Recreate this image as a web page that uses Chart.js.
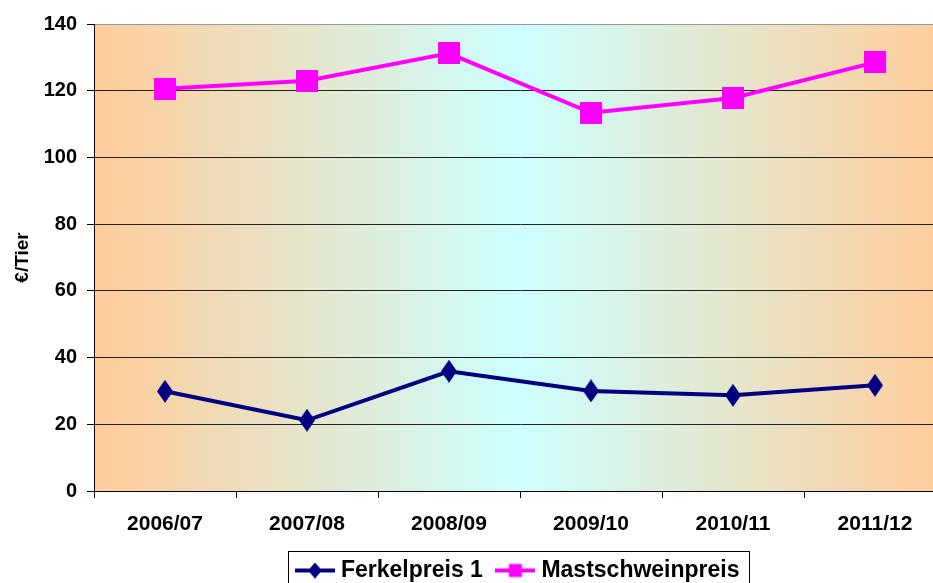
<!DOCTYPE html>
<html>
<head>
<meta charset="utf-8">
<script src="https://cdn.jsdelivr.net/npm/chart.js@4/dist/chart.umd.min.js"></script>
<style>
html,body{margin:0;padding:0;background:#fff;overflow:hidden;width:933px;height:583px;}
#wrap{position:absolute;left:0;top:0;width:954px;height:600px;}
</style>
</head>
<body>
<div id="wrap"><canvas id="c" width="954" height="600"></canvas></div>
<script>
const categories = ['2006/07','2007/08','2008/09','2009/10','2010/11','2011/12'];
const ferkelpreis = [29.9, 21.2, 35.9, 30.0, 28.7, 31.7];
const mastschweinpreis = [120.6, 123.0, 131.2, 113.4, 117.8, 128.5];
const yTicks = [0, 20, 40, 60, 80, 100, 120, 140];
const seriesNames = ['Ferkelpreis 1', 'Mastschweinpreis'];
const yTitle = '€/Tier';

const NAVY = '#000080';
const MAGENTA = '#FF00FF';
const FONT = '"Liberation Sans", Arial, Helvetica, sans-serif';

function diamondImg(w, h, color, lineW) {
  const c = document.createElement('canvas');
  c.width = lineW ? lineW : w; c.height = h;
  const x = c.getContext('2d');
  const cx = c.width / 2, cy = h / 2;
  if (lineW) {
    x.strokeStyle = color; x.lineWidth = 4;
    x.beginPath(); x.moveTo(0, cy); x.lineTo(c.width, cy); x.stroke();
  }
  x.fillStyle = color;
  x.beginPath();
  x.moveTo(cx, cy - h / 2); x.lineTo(cx + w / 2, cy); x.lineTo(cx, cy + h / 2); x.lineTo(cx - w / 2, cy);
  x.closePath(); x.fill();
  return c;
}
function squareImg(s, color, lineW, h) {
  const c = document.createElement('canvas');
  c.width = lineW ? lineW : s; c.height = h ? h : s;
  const x = c.getContext('2d');
  const cx = c.width / 2, cy = c.height / 2;
  if (lineW) {
    x.strokeStyle = color; x.lineWidth = 4;
    x.beginPath(); x.moveTo(0, cy); x.lineTo(c.width, cy); x.stroke();
  }
  x.fillStyle = color;
  x.fillRect(cx - s / 2, cy - s / 2, s, s);
  return c;
}

const ptFerkel = diamondImg(16, 23, NAVY);
const ptMast = squareImg(22, MAGENTA);
const legFerkel = diamondImg(14, 16, NAVY, 40);
const legMast = squareImg(13, MAGENTA, 40, 16);

const bgPlugin = {
  id: 'bg',
  beforeDraw(chart) {
    const {ctx, chartArea: a} = chart;
    const g = ctx.createLinearGradient(a.left, 0, a.right, 0);
    g.addColorStop(0, '#FFCC99');
    g.addColorStop(0.5, '#CCFFFF');
    g.addColorStop(1, '#FFCC99');
    ctx.save();
    ctx.fillStyle = g;
    ctx.fillRect(a.left, a.top, a.right - a.left, a.bottom - a.top);
    ctx.restore();
  },
  afterDraw(chart) {
    const lg = chart.legend;
    if (!lg || !lg.legendHitBoxes || !lg.legendHitBoxes.length) return;
    const hb = lg.legendHitBoxes;
    const first = hb[0], last = hb[hb.length - 1];
    const ctx = chart.ctx;
    ctx.save();
    ctx.strokeStyle = '#000';
    ctx.lineWidth = 1;
    const l = Math.round(first.left - 12) + 0.5;
    const r = Math.round(last.left + last.width + 9) + 0.5;
    const t = Math.round(first.top - 8) + 0.5;
    ctx.strokeRect(l, t, r - l, 60);
    ctx.restore();
  }
};

new Chart(document.getElementById('c'), {
  type: 'line',
  data: {
    labels: categories,
    datasets: [
      {
        label: seriesNames[0],
        data: ferkelpreis,
        borderColor: NAVY,
        backgroundColor: NAVY,
        borderWidth: 4,
        pointStyle: ptFerkel,
        tension: 0,
        fill: false
      },
      {
        label: seriesNames[1],
        data: mastschweinpreis,
        borderColor: MAGENTA,
        backgroundColor: MAGENTA,
        borderWidth: 4,
        pointStyle: ptMast,
        tension: 0,
        fill: false
      }
    ]
  },
  options: {
    responsive: false,
    animation: false,
    devicePixelRatio: 1,
    layout: { padding: { top: 24, right: 0, bottom: 8, left: 0 } },
    plugins: {
      tooltip: { enabled: false },
      legend: {
        position: 'bottom',
        fullSize: false,
        labels: {
          usePointStyle: true,
          pointStyleWidth: 29,
          padding: 18,
          color: '#000',
          font: { family: FONT, size: 23, weight: 'bold' },
          generateLabels(chart) {
            return chart.data.datasets.map((ds, i) => ({
              text: ds.label,
              fillStyle: ds.borderColor,
              strokeStyle: ds.borderColor,
              lineWidth: 0,
              pointStyle: i === 0 ? legFerkel : legMast,
              hidden: false,
              datasetIndex: i,
              fontColor: '#000'
            }));
          }
        }
      }
    },
    scales: {
      x: {
        offset: true,
        grid: {
          offset: true,
          drawOnChartArea: false,
          drawTicks: true,
          tickLength: 7,
          color: '#000'
        },
        border: { color: '#000', width: 1 },
        ticks: {
          color: '#000',
          padding: 14,
          maxRotation: 0,
          font: { family: FONT, size: 21, weight: 'bold' }
        },
        afterFit(scale) { scale.height = 50; }
      },
      y: {
        min: 0,
        max: 140,
        afterBuildTicks(scale) { scale.ticks = yTicks.map(v => ({ value: v })); },
        grid: {
          color: ctx => (ctx.tick && ctx.tick.value === 140) ? '#999' : '#222',
          tickColor: '#000',
          tickLength: 7,
          lineWidth: 1
        },
        border: { color: '#000', width: 1 },
        ticks: {
          color: '#000',
          padding: 10,
          font: { family: FONT, size: 20, weight: 'bold' }
        },
        title: {
          display: true,
          text: yTitle,
          color: '#000',
          padding: { top: 11, bottom: 0 },
          font: { family: FONT, size: 19, weight: 'bold' }
        },
        afterFit(scale) { scale.width = 94; }
      }
    }
  },
  plugins: [bgPlugin]
});
</script>
</body>
</html>
